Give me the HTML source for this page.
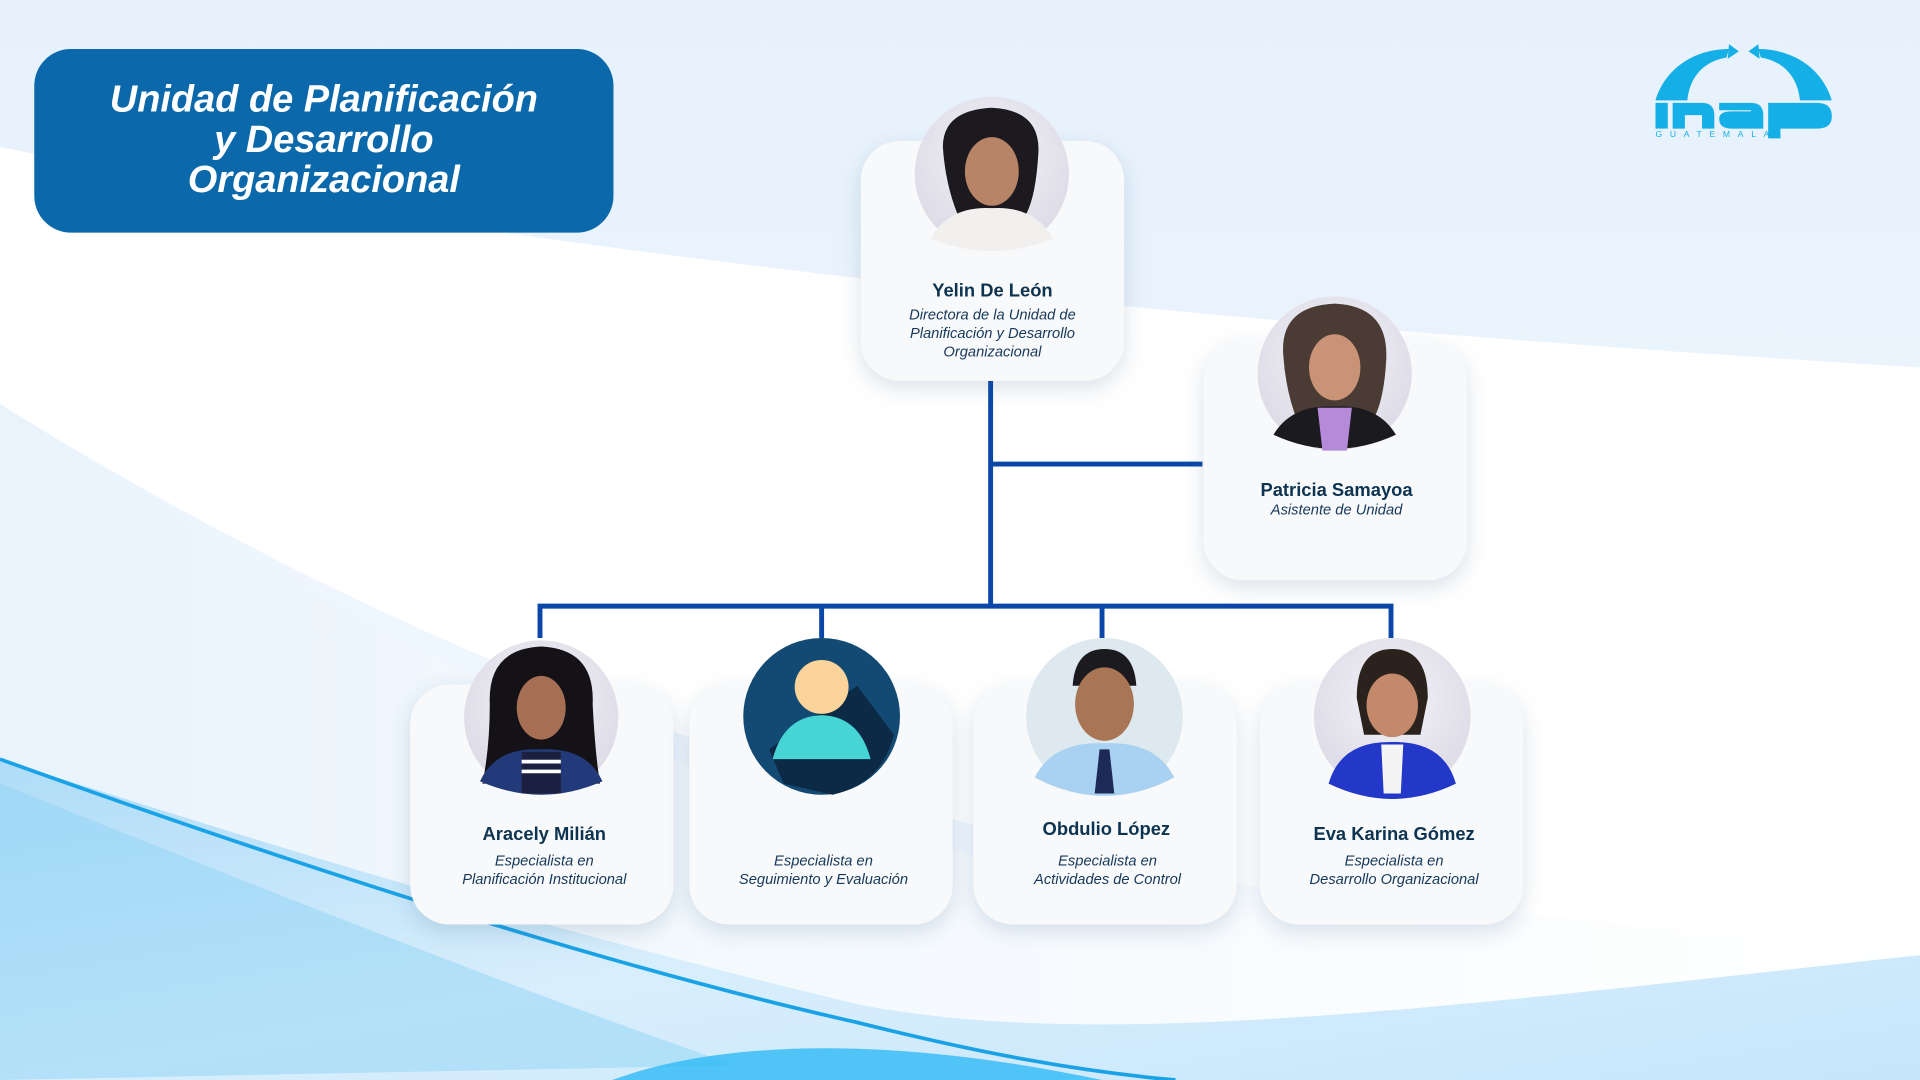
<!DOCTYPE html>
<html><head><meta charset="utf-8"><style>
html,body{margin:0;padding:0;width:1920px;height:1080px;overflow:hidden;background:#fff}
#s{position:absolute;left:0;top:0;width:1568px;height:882px;transform:scale(1.22449);transform-origin:0 0;font-family:"Liberation Sans",sans-serif}
.card{position:absolute;width:215px;height:196px;border-radius:32px;background:#f8f9fa;box-shadow:0 6px 18px rgba(60,100,140,.18)}
.nm{position:absolute;width:215px;text-align:center;font-weight:bold;font-size:15px;color:#0d3350}
.tt{position:absolute;width:215px;text-align:center;font-style:italic;font-size:12px;line-height:15px;color:#17385a}
</style></head><body><div id="s">
<svg width="1568" height="882" style="position:absolute;left:0;top:0">
<defs>
<linearGradient id="bg" x1="0" y1="0" x2="0" y2="1"><stop offset="0" stop-color="#e6f1fc"/><stop offset="1" stop-color="#f4f9ff"/></linearGradient>
<linearGradient id="lw" x1="0" y1="0" x2="1" y2="0"><stop offset="0" stop-color="#e8f3fc"/><stop offset=".3" stop-color="#f2f8fd"/><stop offset="1" stop-color="#ffffff"/></linearGradient>
<linearGradient id="bw" x1="0" y1="0" x2="1" y2="1"><stop offset="0" stop-color="#aedcf7"/><stop offset=".5" stop-color="#d8eefc"/><stop offset="1" stop-color="#c6e6fb"/></linearGradient>
<radialGradient id="pg" cx=".5" cy=".4" r=".6"><stop offset="0" stop-color="#f4f3f8"/><stop offset="1" stop-color="#dcdbe6"/></radialGradient>
</defs>
<rect width="1568" height="882" fill="url(#bg)"/>
<path d="M0 120 C400 200 900 260 1568 300 L1568 780 C1000 760 500 640 0 330 Z" fill="#ffffff"/>
<path d="M0 330 C300 520 500 620 800 700 L1568 780 L1568 882 L0 882 Z" fill="url(#lw)"/>
<path d="M0 620 C250 700 450 760 700 820 C900 860 1200 820 1568 780 L1568 882 L0 882 Z" fill="url(#bw)"/>
<path d="M0 640 C200 720 400 800 600 870 L0 882 Z" fill="#8fd3f6" opacity=".5"/>
<path d="M500 882 C600 845 750 850 900 882 Z" fill="#19b4f5" opacity=".7"/>
<path d="M0 620 C250 710 500 790 700 835 C800 860 880 875 960 882" stroke="#1aa2e6" stroke-width="3" fill="none"/>
<g stroke="#0a47a8" stroke-width="4" fill="none">
<path d="M809 311 V495 M809 379 H982 M441 495 H1137 M441 493 V521 M671 493 V521 M900 493 V521 M1136 493 V521"/>
</g>
<g fill="#13afe6">
<path d="M1352 82 C1360 55 1385 40 1412 40 L1410 47 C1392 50 1380 62 1378 82 Z"/>
<path d="M1412 36 L1420 42 L1411 48 Z"/>
<path d="M1496 82 C1488 55 1463 40 1436 40 L1438 47 C1456 50 1468 62 1470 82 Z"/>
<path d="M1436 36 L1428 42 L1437 48 Z"/>
<rect x="1352" y="84" width="10" height="21"/>
<path d="M1366 105 V84 H1390 Q1400 84 1400 94 V105 H1390 V94 H1376 V105 Z"/>
<path d="M1404 84 H1430 Q1440 84 1440 94 V105 H1414 Q1404 105 1404 97 Q1404 91 1414 91 H1430 V90 H1404 Z"/>
<path d="M1444 84 H1484 Q1496 84 1496 95 Q1496 105 1484 105 H1454 V113 H1444 Z"/>
</g>
<text x="1352" y="112" font-family="Liberation Sans" font-size="7" fill="#13afe6" letter-spacing="6.3">GUATEMALA</text>
</svg>
<div style="position:absolute;left:28px;top:40px;width:473px;height:150px;border-radius:30px;background:#0a68ab"></div>
<div style="position:absolute;left:28px;top:64px;width:473px;text-align:center;color:#fff;font-weight:bold;font-style:italic;font-size:31px;line-height:33px">Unidad de Planificación<br>y Desarrollo<br>Organizacional</div>

<div class="card" style="left:703px;top:115px"></div>
<div class="card" style="left:983px;top:278px"></div>
<div class="card" style="left:335px;top:559px"></div>
<div class="card" style="left:563px;top:559px"></div>
<div class="card" style="left:795px;top:559px"></div>
<div class="card" style="left:1029px;top:559px"></div>

<svg width="1568" height="882" style="position:absolute;left:0;top:0">
<g>
<circle cx="810" cy="142" r="63" fill="url(#pg)"/>
<path d="M770 120 Q770 90 810 88 Q850 90 848 125 Q846 160 838 175 L782 175 Q772 150 770 120Z" fill="#1c1a1e"/>
<ellipse cx="810" cy="140" rx="22" ry="28" fill="#b78467"/>
<path d="M760 195 Q775 168 810 170 Q845 168 860 195 Q810 215 760 195Z" fill="#f2f0ef"/>
</g>
<g>
<circle cx="1090" cy="305" r="63" fill="url(#pg)"/>
<path d="M1048 290 Q1045 250 1090 248 Q1135 250 1132 295 Q1130 330 1120 345 L1060 345 Q1050 320 1048 290Z" fill="#4a3b34"/>
<ellipse cx="1090" cy="300" rx="21" ry="27" fill="#c99377"/>
<path d="M1040 355 Q1055 330 1090 332 Q1125 330 1140 355 Q1090 378 1040 355Z" fill="#1b1a1e"/>
<path d="M1076 333 L1104 333 L1100 368 L1080 368Z" fill="#b58ad8"/>
</g>
<g>
<circle cx="442" cy="586" r="63" fill="url(#pg)"/>
<path d="M400 575 Q398 530 442 528 Q486 530 484 575 Q486 615 490 640 L394 640 Q400 610 400 575Z" fill="#141216"/>
<ellipse cx="442" cy="578" rx="20" ry="26" fill="#a66f54"/>
<path d="M392 638 Q405 610 442 612 Q479 610 492 638 Q442 660 392 638Z" fill="#233a7a"/>
<rect x="426" y="614" width="32" height="34" fill="#1b2040"/>
<path d="M426 622 H458 M426 630 H458" stroke="#fff" stroke-width="3"/>
</g>
<g>
<circle cx="671" cy="585" r="64" fill="#134a73"/>
<path d="M700 560 L730 600 Q720 640 680 649 L640 640 L628 612 Z" fill="#0c2a45"/>
<circle cx="671" cy="561" r="22" fill="#fbd49c"/>
<path d="M631 620 Q640 585 671 584 Q702 585 711 620 Z" fill="#46d4d4"/>
</g>
<g>
<circle cx="902" cy="585" r="64" fill="#dde9ee"/>
<path d="M876 560 Q878 530 902 530 Q926 530 928 560 Z" fill="#1b1a1e"/>
<ellipse cx="902" cy="575" rx="24" ry="30" fill="#a87555"/>
<path d="M845 635 Q860 605 902 607 Q944 605 959 635 Q902 665 845 635Z" fill="#a9d1f1"/>
<path d="M898 612 H906 L910 648 H894Z" fill="#1c2a55"/>
</g>
<g>
<circle cx="1137" cy="585" r="64" fill="url(#pg)"/>
<path d="M1108 570 Q1108 530 1137 530 Q1166 530 1166 570 L1160 600 L1114 600Z" fill="#2b211d"/>
<ellipse cx="1137" cy="576" rx="21" ry="26" fill="#c3896a"/>
<path d="M1085 640 Q1095 605 1137 606 Q1179 605 1189 640 Q1137 665 1085 640Z" fill="#2338c9"/>
<path d="M1128 608 H1146 L1144 648 H1130Z" fill="#f4f4f4"/>
</g>
</svg>

<div class="nm" style="left:703px;top:229px">Yelin De León</div>
<div class="tt" style="left:703px;top:250px">Directora de la Unidad de<br>Planificación y Desarrollo<br>Organizacional</div>
<div class="nm" style="left:984px;top:392px">Patricia Samayoa</div>
<div class="tt" style="left:984px;top:409px">Asistente de Unidad</div>
<div class="nm" style="left:337px;top:673px">Aracely Milián</div>
<div class="tt" style="left:337px;top:696px">Especialista en<br>Planificación Institucional</div>
<div class="tt" style="left:565px;top:696px">Especialista en<br>Seguimiento y Evaluación</div>
<div class="nm" style="left:796px;top:669px">Obdulio López</div>
<div class="tt" style="left:797px;top:696px">Especialista en<br>Actividades de Control</div>
<div class="nm" style="left:1031px;top:673px">Eva Karina Gómez</div>
<div class="tt" style="left:1031px;top:696px">Especialista en<br>Desarrollo Organizacional</div>
</div></body></html>
